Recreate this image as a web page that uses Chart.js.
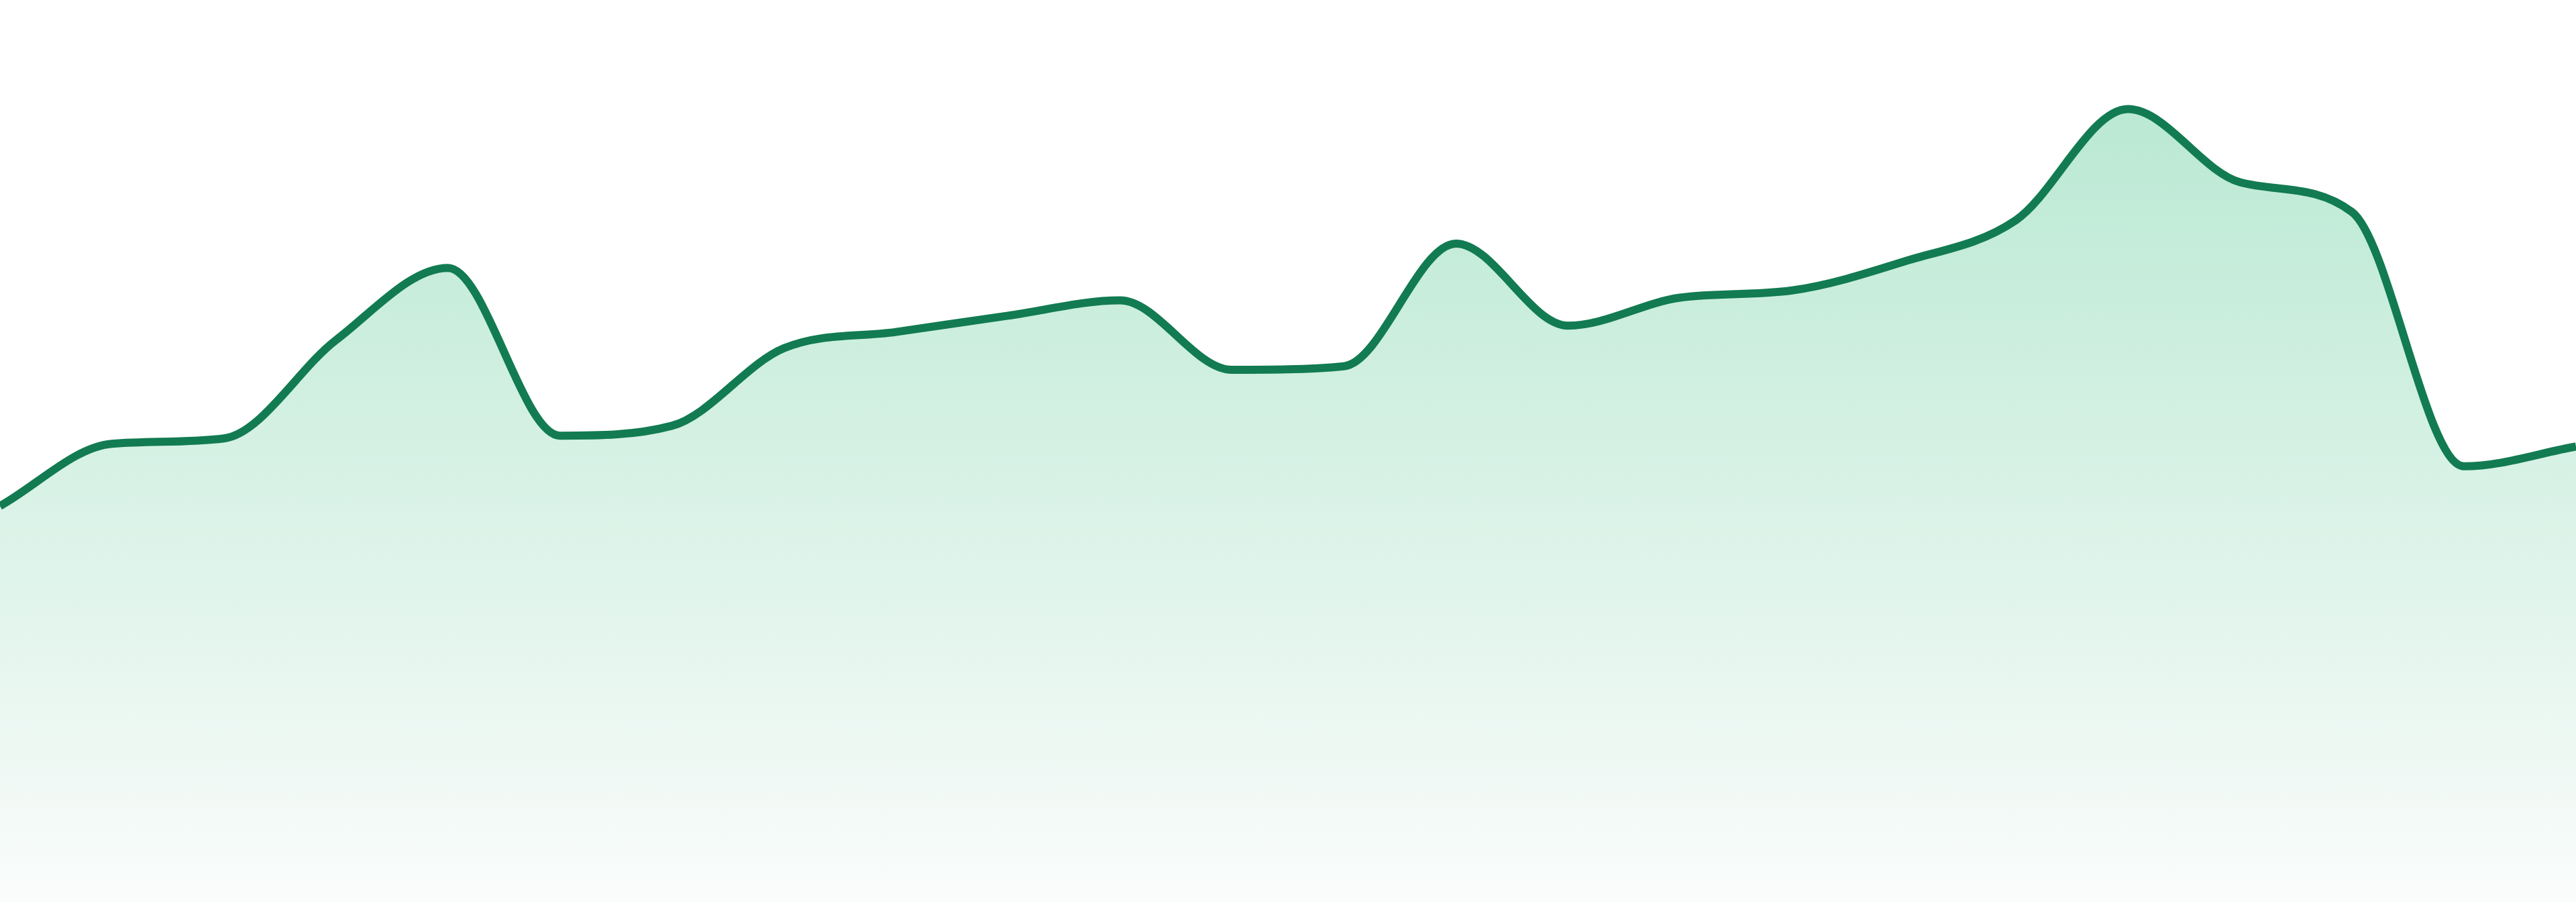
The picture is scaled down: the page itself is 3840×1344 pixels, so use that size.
<!DOCTYPE html>
<html>
<head>
<meta charset="utf-8">
<title>Area sparkline</title>
<script src="https://cdn.jsdelivr.net/npm/chart.js@4.4.1/dist/chart.umd.min.js"></script>
<style>
  html, body { margin: 0; padding: 0; background: #fff; }
  .wrap { width: 100vw; height: 100vh; position: relative; }
</style>
</head>
<body>
<div class="wrap"><canvas id="area-chart"></canvas></div>
<script>
// values, y range 0..100
const labels = ['1', '2', '3', '4', '5', '6', '7', '8', '9', '10', '11', '12',
                '13', '14', '15', '16', '17', '18', '19', '20', '21', '22', '23', '24'];
const values = [43.9, 50.8, 51.4, 62.3, 70.3, 51.7, 52.8, 61.4, 63.2, 65.0, 66.7, 59.0,
                59.4, 73.0, 63.9, 67.0, 67.8, 71.0, 75.6, 87.9, 79.8, 76.5, 48.3, 50.5];
const yRange = [0, 100];

const LINE = '#127b52';

function areaGradient(ctx) {
  const area = ctx.chart.chartArea;
  if (!area) return 'rgba(185,232,211,0.6)';
  const g = ctx.chart.ctx.createLinearGradient(0, area.top, 0, area.bottom);
  g.addColorStop(0, '#b1e6ce');
  g.addColorStop(1, '#fafcfb');
  return g;
}

new Chart(document.getElementById('area-chart').getContext('2d'), {
  type: 'line',
  data: {
    labels: labels,
    datasets: [{
      data: values,
      borderColor: LINE,
      borderWidth: 12,
      backgroundColor: areaGradient,
      fill: 'start',
      cubicInterpolationMode: 'monotone',
      pointRadius: 0,
      pointHoverRadius: 0
    }]
  },
  options: {
    responsive: true, maintainAspectRatio: false,
    animation: false,
    layout: { padding: 0 },
    plugins: { legend: { display: false }, tooltip: { enabled: false } },
    scales: {
      x: { display: false, offset: false },
      y: { display: false, min: yRange[0], max: yRange[1] }
    }
  }
});
</script>
</body>
</html>
